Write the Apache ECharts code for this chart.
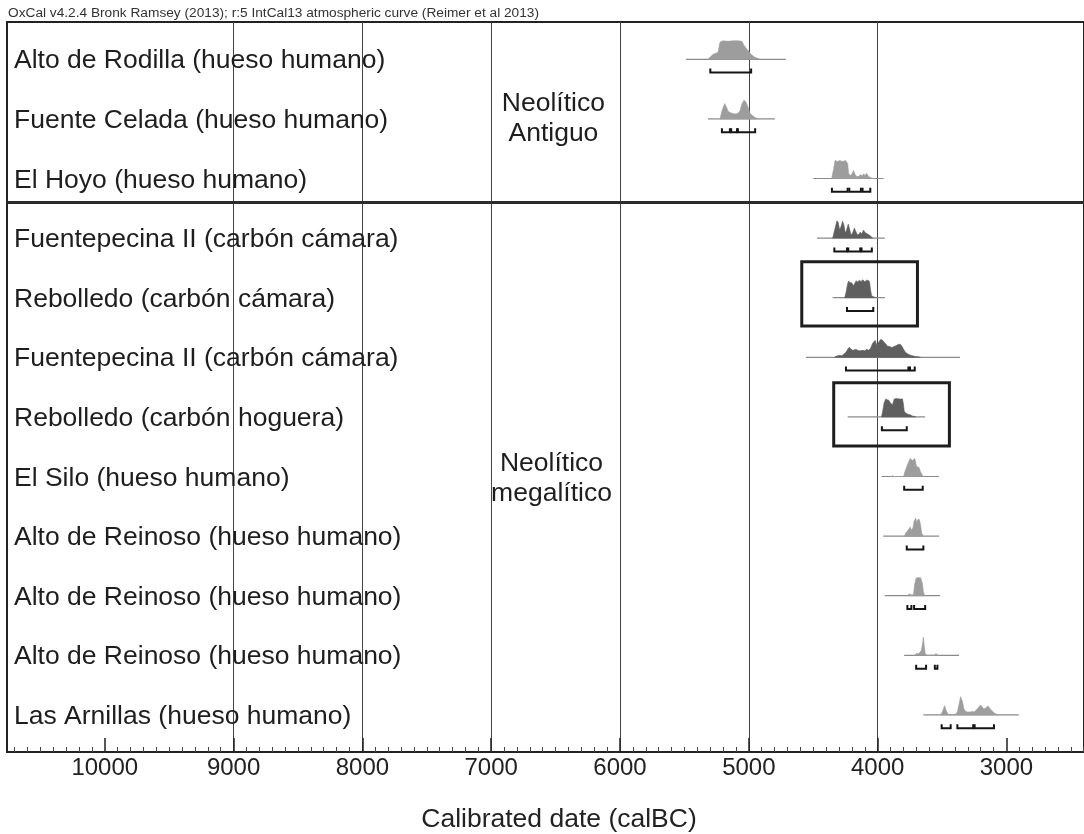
<!DOCTYPE html>
<html>
<head>
<meta charset="utf-8">
<script src="https://cdn.jsdelivr.net/npm/echarts@6/dist/echarts.min.js"></script>
<style>
html,body{margin:0;padding:0;background:#fff;}
#chart{width:1084px;height:834px;}
</style>
</head>
<body>
<div id="chart"></div>
<script>
// ---------------- DATA ----------------
const headerText = 'OxCal v4.2.4 Bronk Ramsey (2013); r:5 IntCal13 atmospheric curve (Reimer et al 2013)';
const axisTitle = 'Calibrated date (calBC)';
const xTickValues = [10000, 9000, 8000, 7000, 6000, 5000, 4000, 3000];

const sampleNames = [
  'Alto de Rodilla (hueso humano)',
  'Fuente Celada (hueso humano)',
  'El Hoyo (hueso humano)',
  'Fuentepecina II (carbón cámara)',
  'Rebolledo (carbón cámara)',
  'Fuentepecina II (carbón cámara)',
  'Rebolledo (carbón hoguera)',
  'El Silo (hueso humano)',
  'Alto de Reinoso (hueso humano)',
  'Alto de Reinoso (hueso humano)',
  'Alto de Reinoso (hueso humano)',
  'Las Arnillas (hueso humano)'
];
const materials = ['hueso','hueso','hueso','carbón','carbón','carbón','carbón','hueso','hueso','hueso','hueso','hueso'];

// plotted span of each calibrated distribution (cal BC)
const plotRanges = [
  [5487,4713],[5317,4798],[4499,3954],[4471,3944],[4349,3944],[4556,3360],
  [4233,3631],[3970,3523],[3957,3523],[3944,3515],[3794,3368],[3645,2904]
];

// calibrated probability distributions: [cal BC, relative probability]
const densAltoRodilla = [[5317,0],[5301,2],[5278,5],[5255,6],[5239,7],[5224,17],[5201,18.5],[5162,18],[5123,18.5],[5085,18.5],[5054,18],[5038,14],[5015,10],[4999,8],[4984,5],[4953,2],[4914,0]];
const densFuenteCelada = [[5224,0],[5209,8],[5188,15.3],[5174,12],[5162,7.7],[5139,6],[5108,5],[5085,5.5],[5069,8],[5054,15],[5038,18.7],[5023,17],[5007,12],[4992,6],[4969,3],[4945,1],[4930,0]];
const densElHoyo = [[4357,0],[4341,10],[4331,18],[4310,17],[4295,18],[4272,17],[4249,18],[4233,15],[4225,5],[4210,3],[4198,5],[4187,8],[4175,4],[4163,2],[4148,2],[4132,4],[4121,2.5],[4109,4.7],[4098,3],[4086,5.3],[4070,2],[4047,0.5],[4032,0]];
const densFuentepecinaA = [[4349,0],[4334,8],[4316,17.3],[4307,16],[4295,8],[4283,12],[4272,17],[4260,12],[4251,5],[4241,8],[4228,14],[4218,9],[4207,3],[4194,5],[4181,10],[4171,7],[4156,3],[4144,4],[4135,6],[4125,4],[4109,8],[4101,6],[4091,5],[4078,4],[4065,3],[4055,2],[4039,0]];
const densRebolledoCamara = [[4256,0],[4246,5],[4233,14],[4225,16.7],[4214,15],[4202,15],[4187,12],[4175,15],[4166,17],[4156,15.5],[4142,17.5],[4129,16],[4117,18],[4099,16],[4086,17.5],[4074,17.5],[4063,16],[4055,8],[4047,2],[4032,1],[4014,0]];
const densFuentepecinaB = [[4334,0],[4324,1],[4297,2],[4279,1.5],[4264,3],[4246,5],[4233,8],[4220,10],[4206,8],[4194,7],[4179,7.5],[4169,8],[4156,7],[4140,6.5],[4117,7],[4101,6.5],[4084,8],[4070,7],[4055,9],[4039,14],[4019,17],[4006,12],[3993,15],[3975,18],[3962,17],[3949,15],[3935,13],[3923,11],[3910,11],[3896,10],[3885,10],[3869,11],[3851,12],[3838,13],[3825,13],[3811,11],[3799,8],[3784,5],[3774,4],[3761,3],[3743,2],[3714,1],[3668,0]];
const densRebolledoHoguera = [[3970,0],[3962,5],[3950,14],[3937,18],[3923,17],[3916,17],[3900,14],[3885,12],[3871,18],[3854,18.3],[3830,18],[3807,18],[3799,12],[3794,6],[3784,4],[3769,3],[3745,2],[3730,1],[3704,0]];
const densElSilo = [[3892,0],[3885,1],[3877,0],[3799,0],[3788,5],[3774,10],[3761,14],[3748,18],[3738,17],[3730,16],[3712,18],[3703,13],[3697,10],[3678,9],[3668,5],[3652,1],[3641,0]];
const densReinosoA = [[3792,0],[3782,3],[3763,6],[3748,9],[3738,6],[3726,8],[3717,15],[3704,18],[3697,13],[3691,16],[3678,17],[3668,12],[3658,3],[3645,0]];
const densReinosoB = [[3769,0],[3755,2],[3745,1],[3722,1],[3712,12],[3703,17],[3697,18],[3666,18],[3652,12],[3645,4],[3635,0]];
const densReinosoC = [[3714,0],[3697,2],[3683,1.5],[3672,3],[3660,5],[3649,14],[3645,18.3],[3637,8],[3631,2],[3621,0],[3559,0],[3546,2],[3536,0]];
const densArnillas = [[3513,0],[3498,3],[3480,9.3],[3467,4],[3451,0.5],[3397,0.5],[3381,3],[3366,12],[3356,18.3],[3343,14],[3330,6],[3319,4],[3304,3],[3281,3],[3265,3.5],[3250,3],[3227,6],[3201,10],[3188,8],[3175,6],[3161,7],[3144,9],[3126,6],[3110,4],[3095,2],[3072,0.5],[3056,0]];

// highest posterior density ranges (cal BC)
const hpdRanges = [
  [[5299,4982]],
  [[5209,5147],[5137,5092],[5085,4951]],
  [[4355,4233],[4220,4130],[4117,4057]],
  [[4336,4238],[4228,4135],[4125,4045]],
  [[4238,4034]],
  [[4246,3761],[3749,3712]],
  [[3967,3774]],
  [[3794,3650]],
  [[3774,3645]],
  [[3769,3738],[3717,3631]],
  [[3701,3624],[3556,3536]],
  [[3503,3433],[3381,3258],[3247,3097]]
];

const periodLabels = ['Neolítico\nAntiguo', 'Neolítico\nmegalítico'];
const periodLabelPos = [[6517, 1.0], [6532, 7.03]];
const periodBoundaryRow = 2.389;
// highlight boxes: [[BC from, row from],[BC to, row to]]
const highlightBoxes = [
  [[4589, 3.396], [3691, 4.475]],
  [[4341, 5.426], [3443, 6.488]]
];

const densities = [densAltoRodilla, densFuenteCelada, densElHoyo, densFuentepecinaA, densRebolledoCamara,
  densFuentepecinaB, densRebolledoHoguera, densElSilo, densReinosoA, densReinosoB, densReinosoC, densArnillas];

// ---------------- CHART ----------------
const FONT = '"Liberation Sans", Arial, Helvetica, sans-serif';
const X_MAX = 10759, X_MIN = 2398;
const ROW_PX = 59.6;
const minorTicks = [];
for (let v = 10700; v >= 2400; v -= 100) { if (v % 1000 !== 0) minorTicks.push(v); }

const fillColor = { 'hueso': '#9d9d9d', 'carbón': '#5f5f5f' };

const chart = echarts.init(document.getElementById('chart'), null, { renderer: 'canvas' });

function renderSample(params, api) {
  const r = params.dataIndex;
  const children = [];
  const pr = plotRanges[r];
  const b0 = api.coord([pr[0], r]);
  const b1 = api.coord([pr[1], r]);
  children.push({ type: 'line', shape: { x1: b0[0], y1: b0[1], x2: b1[0], y2: b1[1] },
    style: { stroke: '#8a8a8a', lineWidth: 1.2 } });
  const pts = densities[r].map(d => api.coord([d[0], r - d[1] / ROW_PX]));
  const first = densities[r][0], last = densities[r][densities[r].length - 1];
  pts.unshift(api.coord([first[0], r]));
  pts.push(api.coord([last[0], r]));
  const c = fillColor[materials[r]];
  children.push({ type: 'polygon', shape: { points: pts }, style: { fill: c, stroke: c, lineWidth: 0.6 } });
  const yOff = 13.3 / ROW_PX, cap = 4 / ROW_PX;
  hpdRanges[r].forEach(seg => {
    const p0 = api.coord([seg[0], r + yOff - cap]);
    const p1 = api.coord([seg[0], r + yOff]);
    const p2 = api.coord([seg[1], r + yOff]);
    const p3 = api.coord([seg[1], r + yOff - cap]);
    children.push({ type: 'polyline', shape: { points: [p0, p1, p2, p3] },
      style: { stroke: '#151515', lineWidth: 2, fill: null } });
  });
  const lp = api.coord([X_MAX, r + 0.03]);
  children.push({ type: 'text', x: lp[0] + 7, y: lp[1],
    style: { text: sampleNames[r], fill: '#1e1e1e', font: '26.5px ' + FONT, verticalAlign: 'middle', align: 'left' } });
  return { type: 'group', children: children };
}

const option = {
  animation: false,
  backgroundColor: '#ffffff',
  grid: { left: 7, top: 22, width: 1080, height: 730, show: true, borderColor: '#222', borderWidth: 2, backgroundColor: 'transparent' },
  xAxis: [
    {
      type: 'value', min: X_MIN, max: X_MAX, inverse: true, position: 'bottom', splitNumber: 8,
      axisLine: { show: true, onZero: false, lineStyle: { color: '#222', width: 2 } },
      axisTick: { show: true, inside: true, length: 14, customValues: xTickValues, lineStyle: { color: '#222', width: 1.5 } },
      axisLabel: { show: true, customValues: xTickValues, formatter: v => String(v), fontSize: 24, fontFamily: FONT, color: '#222', margin: 4 },
      splitLine: { show: true, showMinLine: false, showMaxLine: false, lineStyle: { color: '#444', width: 1 } }
    },
    {
      type: 'value', min: X_MIN, max: X_MAX, inverse: true, position: 'bottom',
      axisLine: { show: false, onZero: false },
      axisTick: { show: true, inside: true, length: 5, customValues: minorTicks, lineStyle: { color: '#444', width: 1 } },
      axisLabel: { show: false },
      splitLine: { show: false }
    }
  ],
  yAxis: {
    type: 'value', min: -0.626, max: 11.622, inverse: true,
    axisLine: { show: false, onZero: false }, axisTick: { show: false }, axisLabel: { show: false }, splitLine: { show: false }
  },
  graphic: [
    { type: 'text', left: 8, top: 6, style: { text: headerText, font: '13.7px ' + FONT, fill: '#333' } },
    { type: 'text', x: 559, y: 820, style: { text: axisTitle, font: '26.5px ' + FONT, fill: '#222', align: 'center', verticalAlign: 'middle' } }
  ],
  series: [
    {
      type: 'custom', xAxisIndex: 0, yAxisIndex: 0,
      data: sampleNames.map((n, i) => [plotRanges[i][0], i]),
      renderItem: renderSample, silent: true, z: 3
    },
    {
      type: 'scatter', xAxisIndex: 0, yAxisIndex: 0, symbolSize: 0, silent: true, z: 4,
      itemStyle: { opacity: 1 },
      data: periodLabelPos.map((p, i) => ({ value: p, name: periodLabels[i] })),
      label: { show: true, position: 'inside', formatter: p => p.name, fontSize: 26.5, fontFamily: FONT, color: '#1e1e1e', lineHeight: 30, align: 'center', verticalAlign: 'middle' },
      markLine: { silent: true, symbol: 'none', label: { show: false },
        lineStyle: { color: '#2b2b2b', width: 3, type: 'solid', opacity: 1 },
        data: [{ yAxis: periodBoundaryRow }] },
      markArea: { silent: true, label: { show: false },
        itemStyle: { color: 'rgba(0,0,0,0)', borderColor: '#1e1e1e', borderWidth: 3, opacity: 1 },
        data: highlightBoxes.map(b => [{ coord: b[0] }, { coord: b[1] }]) }
    }
  ]
};
chart.setOption(option);
</script>
</body>
</html>
